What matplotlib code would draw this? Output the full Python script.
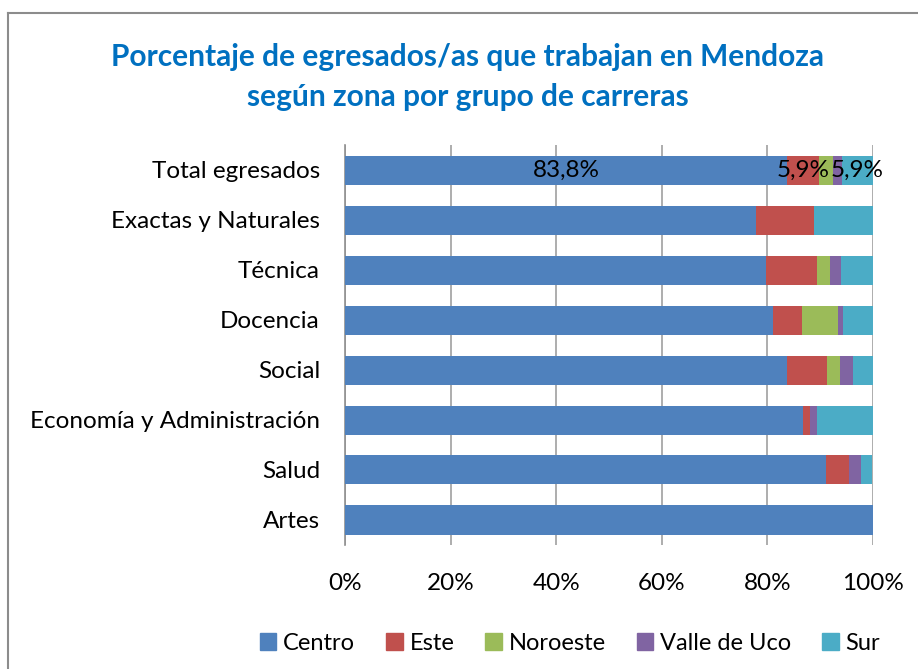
import numpy as np
import matplotlib
matplotlib.use("Agg")
import matplotlib.pyplot as plt
from matplotlib.lines import Line2D

plt.rcParams['font.family'] = ['Lato', 'DejaVu Sans']

# categories (top to bottom) and percentage per zone
categories = ['Total egresados', 'Exactas y Naturales', 'Técnica', 'Docencia',
              'Social', 'Economía y Administración', 'Salud', 'Artes']
zones = ['Centro', 'Este', 'Noroeste', 'Valle de Uco', 'Sur']
centro = [83.8, 77.8, 79.8, 81.0, 83.8, 86.7, 91.1, 100.0]
este = [5.9, 11.1, 9.5, 5.5, 7.5, 1.3, 4.4, 0.0]
noroeste = [2.7, 0.0, 2.5, 6.9, 2.5, 0.0, 0.0, 0.0]
valle = [1.7, 0.0, 2.2, 1.0, 2.5, 1.4, 2.2, 0.0]
sur = [5.9, 11.1, 6.0, 5.6, 3.7, 10.6, 2.2, 0.0]
colors = ['#4F81BD', '#C0504D', '#9BBB59', '#8064A2', '#4BACC6']
x_ticks = [0, 20, 40, 60, 80, 100]

series = [centro, este, noroeste, valle, sur]
fs = 17.5

fig = plt.figure(figsize=(9.18, 6.69), dpi=100)
ax = fig.add_axes([345 / 918, 1 - 545 / 669, 528 / 918, 400 / 669])

y = np.arange(len(categories))
left = np.zeros(len(categories))
bars = []
for vals, name, c in zip(series, zones, colors):
    b = ax.barh(y, vals, left=left, height=0.58, color=c, label=name, zorder=3)
    bars.append(b)
    left = left + np.array(vals)

# data labels shown only on the total row (Centro, Este, Sur)
for idx in [0, 1, 4]:
    rect = bars[idx][0]
    val = series[idx][0]
    cx = rect.get_x() + rect.get_width() / 2
    ax.text(cx, rect.get_y() + rect.get_height() / 2, f"{val:.1f}%".replace('.', ','),
            ha='center', va='center', fontsize=fs, color='black', zorder=4)

ax.set_xlim(0, 100)
ax.set_ylim(len(categories) - 0.5, -0.5)
ax.set_xticks(x_ticks)
ax.set_xticklabels([f"{t}%" for t in x_ticks], fontsize=fs)
ax.set_yticks(y)
ax.set_yticklabels(categories, fontsize=fs)
ax.tick_params(axis='y', length=0, pad=18)
ax.tick_params(axis='x', length=0, pad=20)
ax.xaxis.grid(True, color='#A0A0A0', linewidth=1.2, zorder=0)
for s in ['top', 'right', 'bottom']:
    ax.spines[s].set_visible(False)
ax.spines['left'].set_color('#909090')
ax.spines['left'].set_linewidth(1.2)

fig.text(468 / 918, 1 - 57 / 669, 'Porcentaje de egresados/as que trabajan en Mendoza',
         ha='center', va='center', fontsize=21.5, fontweight='bold', color='#0070C0')
fig.text(468 / 918, 1 - 97 / 669, 'según zona por grupo de carreras',
         ha='center', va='center', fontsize=21.5, fontweight='bold', color='#0070C0')

handles = [plt.Rectangle((0, 0), 1, 1, color=c) for c in colors]
fig.legend(handles, zones, loc='center', bbox_to_anchor=(570 / 918, 1 - 643 / 669),
           ncol=5, frameon=False, fontsize=17, handlelength=0.7, handleheight=0.7,
           handletextpad=0.3, columnspacing=1.3, borderpad=0.2)

# outer chart frame (top and left edges visible)
fig.add_artist(Line2D([8 / 918, 1], [1 - 13 / 669, 1 - 13 / 669], color='#8C8C8C', linewidth=1.5))
fig.add_artist(Line2D([8 / 918, 8 / 918], [0, 1 - 13 / 669], color='#8C8C8C', linewidth=1.5))

fig.savefig('out.png', dpi=100)
